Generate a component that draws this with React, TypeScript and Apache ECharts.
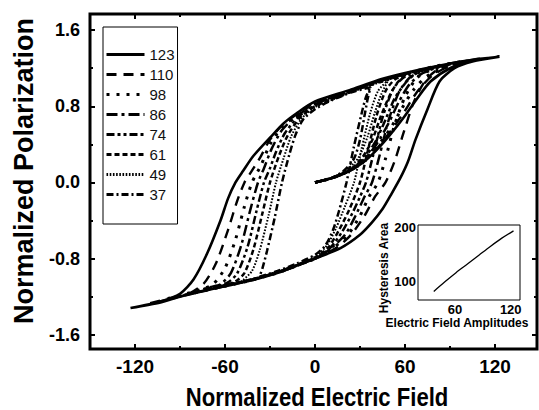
import React, { useEffect, useRef } from "react";
import * as echarts from "echarts";

const FONT = 'Arial, "Liberation Sans", Helvetica, sans-serif';

// Tick positions / labels
const X_MAJOR = [-120, -60, 0, 60, 120];
const X_MINOR = [-90, -30, 30, 90];
const Y_MAJOR = [-1.6, -0.8, 0, 0.8, 1.6];
const Y_MINOR = [-1.2, -0.4, 0.4, 1.2];
const INSET_X_TICKS = [60, 120];
const INSET_X_MINOR = [30, 90];
const INSET_Y_TICKS = [100, 200];

// Legend / loop names (field amplitudes)
const LOOP_NAMES = ["123", "110", "98", "86", "74", "61", "49", "37"];

// Inset: hysteresis area vs amplitude
const AMPLITUDES = [37, 49, 61, 74, 86, 98, 110, 123];
const AREAS = [81, 99, 116, 133, 149, 165, 180, 194];

// Loop 123
const INIT_123 = [[0, 0], [12, 0.05], [23, 0.12], [32, 0.21], [41, 0.34], [50, 0.5], [59, 0.68], [68, 0.88], [77, 1.06], [90, 1.2], [105, 1.28], [123, 1.32]];
const DESC_123 = [[123, 1.32], [105, 1.29], [90, 1.25], [68, 1.18], [45, 1.09], [23, 0.97], [0, 0.85], [-12, 0.73], [-21, 0.62], [-30, 0.47], [-41, 0.28], [-48, 0.12], [-53, 0], [-58, -0.17], [-63, -0.4], [-72, -0.75], [-81, -1.02], [-90, -1.17], [-103, -1.25], [-123, -1.32]];
const ASC_123 = [[-123, -1.32], [-103, -1.26], [-90, -1.2], [-77, -1.15], [-60, -1.09], [-43, -1.03], [-23, -0.94], [-10, -0.86], [0, -0.8], [17, -0.69], [30, -0.55], [38, -0.42], [45, -0.28], [51, -0.12], [57, 0.05], [62, 0.22], [67, 0.45], [75, 0.77], [83, 1.06], [93, 1.2], [105, 1.27], [123, 1.32]];

// Loop 110
const INIT_110 = [[0, 0], [12, 0.05], [23, 0.12], [32, 0.21], [41, 0.35], [50, 0.53], [59, 0.73], [68, 0.95], [78, 1.12], [92, 1.24], [110, 1.3]];
const DESC_110 = [[110, 1.3], [90, 1.25], [68, 1.17], [45, 1.08], [23, 0.96], [0, 0.84], [-12, 0.72], [-22, 0.6], [-30, 0.45], [-37, 0.25], [-43, 0.1], [-47, 0], [-52, -0.2], [-58, -0.5], [-66, -0.85], [-74, -1.06], [-83, -1.16], [-95, -1.22], [-110, -1.27]];
const ASC_110 = [[-110, -1.27], [-95, -1.21], [-77, -1.15], [-60, -1.09], [-43, -1.03], [-23, -0.94], [-10, -0.86], [0, -0.8], [14, -0.69], [24, -0.55], [33, -0.35], [40, -0.15], [47, 0], [53, 0.22], [59, 0.52], [66, 0.85], [74, 1.08], [83, 1.2], [95, 1.26], [110, 1.3]];

// Loop 98
const INIT_98 = [[0, 0], [12, 0.05], [23, 0.12], [32, 0.22], [41, 0.37], [50, 0.56], [58, 0.78], [66, 0.98], [76, 1.13], [98, 1.27]];
const DESC_98 = [[98, 1.27], [80, 1.22], [60, 1.14], [40, 1.04], [20, 0.94], [0, 0.83], [-12, 0.71], [-22, 0.58], [-30, 0.4], [-36, 0.18], [-42, 0], [-47, -0.25], [-53, -0.6], [-60, -0.9], [-68, -1.07], [-77, -1.13], [-98, -1.22]];
const ASC_98 = [[-98, -1.22], [-80, -1.16], [-60, -1.09], [-43, -1.03], [-23, -0.94], [-10, -0.86], [0, -0.8], [12, -0.69], [22, -0.55], [30, -0.35], [36, -0.15], [42, 0], [47, 0.25], [53, 0.6], [60, 0.9], [68, 1.1], [77, 1.18], [98, 1.27]];

// Loop 86
const INIT_86 = [[0, 0], [12, 0.05], [23, 0.13], [32, 0.23], [41, 0.4], [49, 0.62], [56, 0.85], [63, 1.03], [72, 1.15], [86, 1.23]];
const DESC_86 = [[86, 1.23], [70, 1.18], [50, 1.1], [30, 1.0], [12, 0.9], [0, 0.82], [-12, 0.7], [-22, 0.55], [-29, 0.35], [-34, 0.15], [-38, 0], [-43, -0.28], [-49, -0.65], [-56, -0.95], [-63, -1.07], [-70, -1.1], [-86, -1.18]];
const ASC_86 = [[-86, -1.18], [-70, -1.12], [-50, -1.05], [-30, -0.97], [-12, -0.87], [0, -0.8], [10, -0.7], [20, -0.55], [27, -0.35], [33, -0.15], [38, 0], [43, 0.28], [49, 0.65], [56, 0.95], [63, 1.1], [70, 1.16], [86, 1.23]];

// Loop 74
const INIT_74 = [[0, 0], [12, 0.05], [23, 0.13], [32, 0.24], [40, 0.42], [47, 0.66], [53, 0.88], [60, 1.04], [66, 1.13], [74, 1.19]];
const DESC_74 = [[74, 1.19], [60, 1.14], [40, 1.05], [20, 0.94], [0, 0.81], [-11, 0.69], [-20, 0.52], [-26, 0.32], [-30, 0.15], [-34, 0], [-39, -0.3], [-45, -0.68], [-52, -0.96], [-58, -1.05], [-63, -1.08], [-74, -1.12]];
const ASC_74 = [[-74, -1.12], [-60, -1.08], [-40, -1.01], [-20, -0.92], [0, -0.8], [10, -0.69], [18, -0.52], [25, -0.32], [30, -0.15], [34, 0], [39, 0.3], [45, 0.68], [52, 0.98], [58, 1.09], [63, 1.13], [74, 1.19]];

// Loop 61
const INIT_61 = [[0, 0], [12, 0.05], [23, 0.13], [31, 0.25], [38, 0.44], [44, 0.7], [50, 0.92], [55, 1.05], [61, 1.14]];
const DESC_61 = [[61, 1.14], [45, 1.07], [25, 0.96], [0, 0.8], [-10, 0.68], [-18, 0.5], [-24, 0.28], [-30, 0], [-35, -0.32], [-41, -0.7], [-47, -0.95], [-53, -1.04], [-61, -1.08]];
const ASC_61 = [[-61, -1.08], [-45, -1.03], [-25, -0.94], [0, -0.79], [9, -0.68], [16, -0.5], [23, -0.28], [30, 0], [35, 0.32], [41, 0.7], [47, 0.96], [53, 1.08], [61, 1.14]];

// Loop 49
const INIT_49 = [[0, 0], [11, 0.05], [21, 0.13], [29, 0.26], [35, 0.48], [40, 0.74], [44, 0.92], [49, 1.08]];
const DESC_49 = [[49, 1.08], [35, 1.01], [18, 0.91], [0, 0.79], [-9, 0.67], [-16, 0.48], [-21, 0.25], [-26, 0], [-31, -0.35], [-37, -0.72], [-42, -0.93], [-49, -1.04]];
const ASC_49 = [[-49, -1.04], [-35, -0.99], [-18, -0.9], [0, -0.78], [8, -0.66], [14, -0.48], [20, -0.25], [26, 0], [31, 0.35], [37, 0.74], [42, 0.96], [49, 1.08]];

// Loop 37
const INIT_37 = [[0, 0], [10, 0.04], [19, 0.12], [26, 0.25], [30, 0.45], [33, 0.7], [35, 0.87], [37, 1.0]];
const DESC_37 = [[37, 1.0], [25, 0.95], [12, 0.87], [0, 0.77], [-8, 0.66], [-13, 0.5], [-17, 0.3], [-22, 0], [-27, -0.38], [-32, -0.72], [-35, -0.9], [-37, -0.99]];
const ASC_37 = [[-37, -0.99], [-25, -0.93], [-12, -0.85], [0, -0.76], [7, -0.66], [12, -0.5], [16, -0.3], [21, 0], [26, 0.38], [31, 0.72], [34, 0.9], [37, 1.0]];

const LOOP_PATHS: Record<string, number[][][]> = {
  "123": [INIT_123, DESC_123, ASC_123],
  "110": [INIT_110, DESC_110, ASC_110],
  "98": [INIT_98, DESC_98, ASC_98],
  "86": [INIT_86, DESC_86, ASC_86],
  "74": [INIT_74, DESC_74, ASC_74],
  "61": [INIT_61, DESC_61, ASC_61],
  "49": [INIT_49, DESC_49, ASC_49],
  "37": [INIT_37, DESC_37, ASC_37],
};

const LINE_STYLES: Record<string, { type: any; width: number }> = {
  "123": { type: "solid", width: 2.6 },
  "110": { type: [10, 7], width: 2.4 },
  "98": { type: [3, 7], width: 3 },
  "86": { type: [11, 4, 3, 4], width: 2.5 },
  "74": { type: [8, 3, 3, 3, 3, 3], width: 2.5 },
  "61": { type: [5, 3], width: 2.5 },
  "49": { type: [1.6, 1.6], width: 2 },
  "37": { type: [7, 3, 2, 3], width: 2.5 },
};

function joinPath(parts: number[][][]): number[][] {
  const out: number[][] = [];
  parts.forEach((p) =>
    p.forEach((pt) => {
      const last = out[out.length - 1];
      if (!last || last[0] !== pt[0] || last[1] !== pt[1]) out.push(pt);
    })
  );
  return out;
}

const MAIN_RECT = { left: 90, top: 14, width: 447, height: 335 };
const X_RANGE = { min: -150, max: 148 };
const Y_RANGE = { min: -1.75, max: 1.77 };

function tickAxis(kind: "x" | "y", position: string, grid: number, ticks: number[], len: number) {
  const range = kind === "x" ? X_RANGE : Y_RANGE;
  return {
    type: "value",
    gridIndex: grid,
    position,
    ...range,
    axisLine: { show: false, onZero: false },
    axisTick: { show: true, inside: true, length: len, customValues: ticks, lineStyle: { color: "#000", width: 2 } },
    axisLabel: { show: false },
    splitLine: { show: false },
  };
}

function buildOption() {
  const labelStyle = { color: "#000", fontFamily: FONT, fontWeight: "bold" as const };
  const xMain: any = tickAxis("x", "bottom", 0, X_MAJOR, 5);
  xMain.axisLabel = { show: true, customValues: X_MAJOR, fontSize: 19, margin: 8, ...labelStyle };

  const yMain: any = tickAxis("y", "left", 0, Y_MAJOR, 5);
  yMain.axisLabel = { show: true, customValues: Y_MAJOR, fontSize: 18, margin: 10, formatter: (v: number) => v.toFixed(1), ...labelStyle };
  yMain.name = "Normalized Polarization";
  yMain.nameLocation = "middle";
  yMain.nameGap = 53;
  yMain.nameTextStyle = { fontSize: 27, fontWeight: "bold", color: "#000", fontFamily: FONT, padding: [0, 0, 0, 21] };

  const loopSeries = LOOP_NAMES.map((name, i) => ({
    name,
    type: "line",
    xAxisIndex: 0,
    yAxisIndex: 0,
    data: joinPath(LOOP_PATHS[name]),
    symbol: "none",
    smooth: 0.25,
    lineStyle: { color: "#000", width: LINE_STYLES[name].width, type: LINE_STYLES[name].type },
    itemStyle: { color: "#000" },
    z: 10 - i,
  }));

  return {
    animation: false,
    backgroundColor: "#fff",
    grid: [
      { ...MAIN_RECT, show: true, borderColor: "#000", borderWidth: 3, backgroundColor: "transparent" },
      { left: 418, top: 225, width: 102, height: 75, show: true, borderColor: "#000", borderWidth: 1, backgroundColor: "#fff", z: 5 },
      { ...MAIN_RECT, show: false },
    ],
    graphic: [
      {
        type: "text",
        x: 317,
        y: 396.5,
        scaleX: 0.85,
        style: {
          text: "Normalized Electric Field",
          fontSize: 26,
          fontWeight: "bold",
          fontFamily: FONT,
          fill: "#000",
          align: "center",
          verticalAlign: "middle",
        },
      },
    ],
    legend: {
      data: LOOP_NAMES.map((name) => ({
        name,
        lineStyle: { width: 3, type: LINE_STYLES[name].type, color: "#000" },
      })),
      orient: "vertical",
      left: 103,
      top: 27,
      itemWidth: 38,
      itemHeight: 14,
      itemGap: 5,
      padding: [20, 3, 22, 2],
      borderColor: "#000",
      borderWidth: 1,
      backgroundColor: "#fff",
      itemStyle: { opacity: 0 },
      textStyle: { fontSize: 15, color: "#111", fontFamily: FONT },
      selectedMode: false,
    },
    xAxis: [
      xMain,
      tickAxis("x", "top", 0, X_MAJOR, 5),
      tickAxis("x", "bottom", 2, X_MINOR, 3),
      tickAxis("x", "top", 2, X_MINOR, 3),
      {
        type: "value",
        gridIndex: 1,
        min: 20,
        max: 130,
        axisLine: { show: false, onZero: false },
        axisTick: { show: true, inside: true, length: 3, customValues: [...INSET_X_MINOR, ...INSET_X_TICKS], lineStyle: { color: "#000", width: 1 } },
        axisLabel: { show: true, customValues: INSET_X_TICKS, fontSize: 13, margin: 3, ...labelStyle },
        splitLine: { show: false },
        name: "Electric Field Amplitudes",
        nameLocation: "middle",
        nameGap: 6,
        nameTextStyle: { fontSize: 12, fontWeight: "bold", color: "#000", fontFamily: FONT, padding: [0, 24, 0, 0] },
      },
    ],
    yAxis: [
      yMain,
      tickAxis("y", "right", 0, Y_MAJOR, 5),
      tickAxis("y", "left", 2, Y_MINOR, 3),
      tickAxis("y", "right", 2, Y_MINOR, 3),
      {
        type: "value",
        gridIndex: 1,
        min: 65,
        max: 205,
        axisLine: { show: false, onZero: false },
        axisTick: { show: true, inside: true, length: 3, customValues: INSET_Y_TICKS, lineStyle: { color: "#000", width: 1 } },
        axisLabel: { show: true, customValues: INSET_Y_TICKS, fontSize: 13, margin: 2, ...labelStyle },
        splitLine: { show: false },
        name: "Hysteresis Area",
        nameLocation: "middle",
        nameGap: 21,
        nameTextStyle: { fontSize: 12, fontWeight: "bold", color: "#000", fontFamily: FONT, padding: [0, 11, 0, 0] },
      },
    ],
    series: [
      ...loopSeries,
      {
        name: "Hysteresis Area",
        type: "line",
        xAxisIndex: 4,
        yAxisIndex: 4,
        data: AMPLITUDES.map((a, i) => [a, AREAS[i]]),
        symbol: "none",
        smooth: 0.3,
        lineStyle: { color: "#000", width: 1.3 },
        z: 20,
      },
    ],
  };
}

export default function App() {
  const ref = useRef<HTMLDivElement>(null);
  useEffect(() => {
    const chart = echarts.init(ref.current!, null, { renderer: "svg" });
    chart.setOption(buildOption() as any);
    return () => chart.dispose();
  }, []);
  return (
    <div
      ref={ref}
      style={{ position: "fixed", left: 0, top: 0, width: 539, height: 410, background: "#fff" }}
    />
  );
}
